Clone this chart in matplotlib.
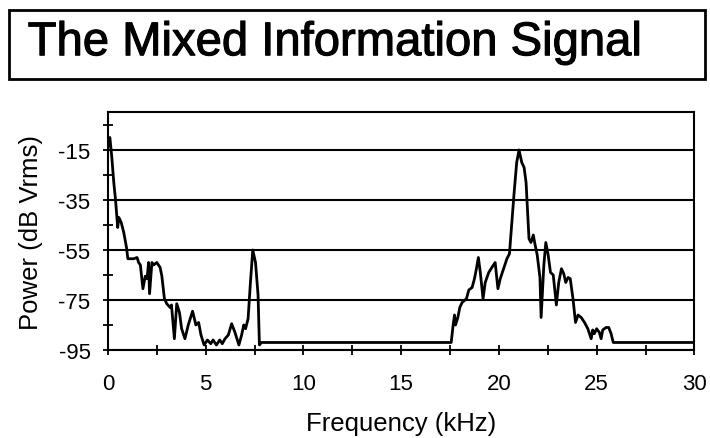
import matplotlib.pyplot as plt
import matplotlib.patheffects as pe
from matplotlib.patches import Rectangle
from matplotlib.ticker import MultipleLocator

plt.rcParams['font.family'] = ['Liberation Sans', 'DejaVu Sans']
plt.rcParams['axes.unicode_minus'] = False

# spectrum trace (kHz, dB Vrms)
freq_khz = [0, 0.1, 0.2, 0.3, 0.39, 0.5, 0.56, 0.68, 0.81, 0.95, 1.02, 1.32, 1.49,
            1.57, 1.66, 1.79, 1.91, 2.0, 2.08, 2.13, 2.25, 2.34, 2.5, 2.67, 2.76,
            2.89, 3.01, 3.18, 3.25, 3.4, 3.52, 3.66, 3.77, 3.94, 4.11, 4.33, 4.5,
            4.64, 4.76, 4.92, 5.09, 5.26, 5.38, 5.55, 5.72, 5.85, 5.99, 6.16, 6.33,
            6.5, 6.62, 6.7, 6.84, 6.95, 7.04, 7.17, 7.29, 7.41, 7.55, 7.68, 7.75,
            7.85, 17.56, 17.66, 17.73, 17.78, 17.9, 18.0, 18.12, 18.34, 18.46,
            18.63, 18.75, 18.85, 18.95, 19.05, 19.19, 19.3, 19.48, 19.64, 19.81,
            19.95, 20.07, 20.24, 20.41, 20.54, 20.66, 20.78, 20.91, 21.03, 21.17,
            21.29, 21.39, 21.46, 21.54, 21.64, 21.76, 21.84, 21.96, 22.1, 22.16,
            22.3, 22.4, 22.52, 22.64, 22.78, 22.94, 23.06, 23.2, 23.32, 23.42,
            23.54, 23.65, 23.79, 23.92, 24.05, 24.21, 24.38, 24.55, 24.72, 24.8,
            24.88, 25.0, 25.14, 25.23, 25.31, 25.48, 25.62, 25.74, 25.85, 30]
power_db = [-14, -10, -18, -28, -35, -46, -42, -44, -48, -54, -58.5, -58.5, -58,
            -60, -61, -70.5, -65.5, -66.5, -60, -72.5, -60, -61, -60, -62, -65.5,
            -74.5, -76.5, -78, -77, -90.5, -76.5, -80, -86.5, -90.5, -85, -79.5, -85,
            -84, -89, -93, -91, -92.5, -91, -93, -91, -92.5, -90.5, -89, -84.5,
            -88, -91, -93, -89, -85, -86.5, -82.5, -68, -55, -60, -73, -93,
            -92, -92, -85, -81, -85, -82, -78, -76, -74.5, -71,
            -70, -66.5, -62.5, -58, -64, -74.5, -68, -64, -62, -60,
            -70.5, -66.5, -62.5, -58.5, -56.5, -44, -32, -20, -15, -20,
            -22, -28, -38.5, -50.5, -52, -49, -52.5, -57, -66, -82,
            -61, -52, -57, -64, -65, -77, -68, -62.5, -64.5, -68,
            -66, -66.5, -74.5, -84, -81, -82, -84, -86.5, -90.5, -87,
            -88.5, -86.5, -88, -90.5, -87, -86, -86, -88.5, -92, -92]

fig = plt.figure(figsize=(7.1, 4.39), dpi=100)

# boxed title (thin stroke thickens the glyphs like the scanned original)
fig.patches.append(Rectangle((0.0127, 0.818), 0.98, 0.157, transform=fig.transFigure,
                             fill=False, edgecolor='black', linewidth=2))
fig.text(0.039, 0.872, 'The Mixed Information Signal', fontsize=34,
         ha='left', va='baseline',
         path_effects=[pe.withStroke(linewidth=0.8, foreground='black')])

ax = fig.add_axes([0.152, 0.2005, 0.826, 0.541])
ax.plot(freq_khz, power_db, color='black', linewidth=2)

ax.set_xlim(0, 30)
ax.set_ylim(-95, 0)
ax.set_xticks(range(0, 31, 5))
ax.xaxis.set_minor_locator(MultipleLocator(2.5))
ax.set_yticks([-95, -75, -55, -35, -15])
ax.set_yticks([-85, -65, -45, -25, -5], minor=True)
ax.yaxis.grid(True, which='major', color='black', linewidth=1.5)

ax.tick_params(which='both', direction='inout', length=7, width=1.3, labelsize=16)
ax.tick_params(axis='x', pad=13)
ax.tick_params(axis='y', pad=9)
for s in ax.spines.values():
    s.set_linewidth(1.5)

ax.set_xlabel('Frequency (kHz)', fontsize=18.5)
ax.xaxis.set_label_coords(0.5, -0.255)
ax.set_ylabel('Power (dB Vrms)', fontsize=18.5, va='center')
ax.yaxis.set_label_coords(-0.132, 0.5)

fig.savefig('out.png', dpi=100)
